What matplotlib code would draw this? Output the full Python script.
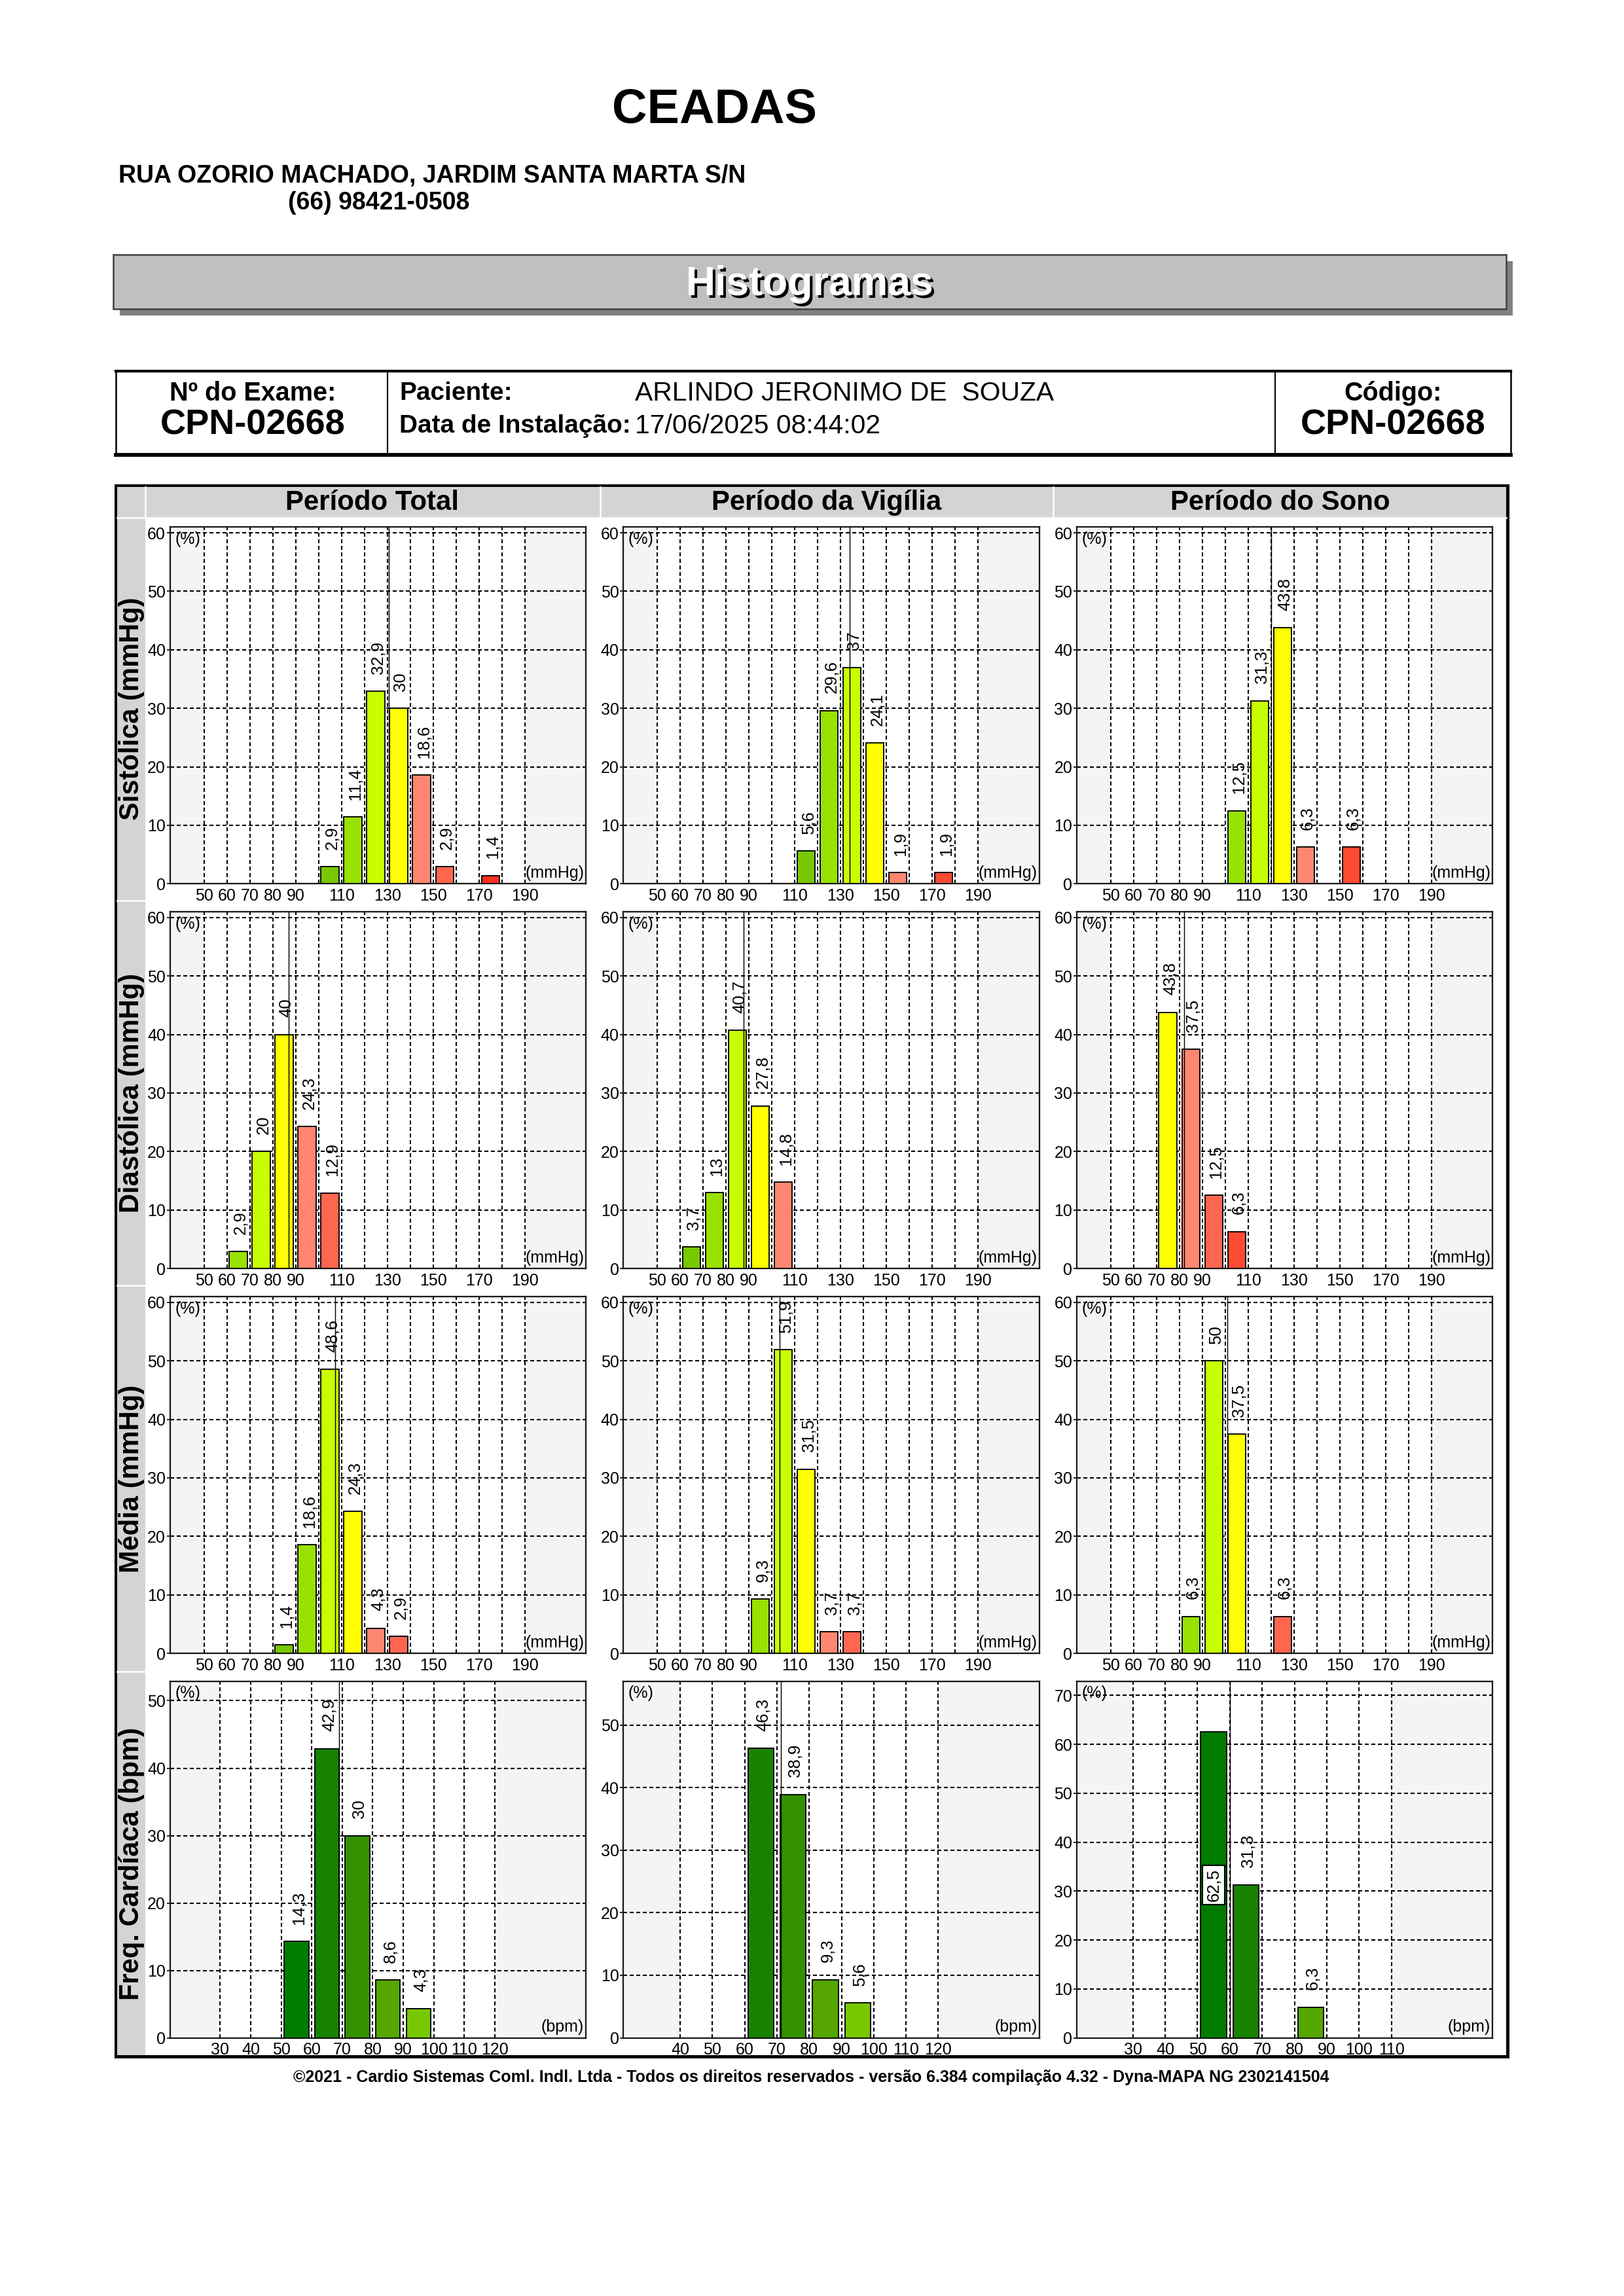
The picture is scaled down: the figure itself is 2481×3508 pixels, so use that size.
import numpy as np
import matplotlib
matplotlib.use("Agg")
import matplotlib.pyplot as plt
from matplotlib.patches import Rectangle

plt.rcParams['font.family'] = ['Liberation Sans', 'DejaVu Sans']
plt.rcParams['lines.scale_dashes'] = False

W, H = 2481, 3508

# ---------------- texts ----------------
clinic = "CEADAS"
address = "RUA OZORIO MACHADO, JARDIM SANTA MARTA S/N"
phone = "(66) 98421-0508"
exam_no = "CPN-02668"
patient = "ARLINDO JERONIMO DE  SOUZA"
install_date = "17/06/2025 08:44:02"
code = "CPN-02668"
footer = ("©2021 - Cardio Sistemas Coml. Indl. Ltda - Todos os direitos reservados - "
          "versão 6.384 compilação 4.32 - Dyna-MAPA NG 2302141504")

periods = ["Período Total", "Período da Vigília", "Período do Sono"]
row_names = ["Sistólica (mmHg)", "Diastólica (mmHg)", "Média (mmHg)", "Freq. Cardíaca (bpm)"]

# ---------------- data ----------------
bp_ticks = [50, 60, 70, 80, 90, 110, 130, 150, 170, 190]

# bin start (mmHg / bpm) and percentage, per period (total, vigilia, sono)
sis_total_bins = [100, 110, 120, 130, 140, 150, 170]
sis_total_pct = [2.9, 11.4, 32.9, 30, 18.6, 2.9, 1.4]
sis_vig_bins = [110, 120, 130, 140, 150, 170]
sis_vig_pct = [5.6, 29.6, 37, 24.1, 1.9, 1.9]
sis_sono_bins = [100, 110, 120, 130, 150]
sis_sono_pct = [12.5, 31.3, 43.8, 6.3, 6.3]

dia_total_bins = [60, 70, 80, 90, 100]
dia_total_pct = [2.9, 20, 40, 24.3, 12.9]
dia_vig_bins = [60, 70, 80, 90, 100]
dia_vig_pct = [3.7, 13, 40.7, 27.8, 14.8]
dia_sono_bins = [70, 80, 90, 100]
dia_sono_pct = [43.8, 37.5, 12.5, 6.3]

med_total_bins = [80, 90, 100, 110, 120, 130]
med_total_pct = [1.4, 18.6, 48.6, 24.3, 4.3, 2.9]
med_vig_bins = [90, 100, 110, 120, 130]
med_vig_pct = [9.3, 51.9, 31.5, 3.7, 3.7]
med_sono_bins = [80, 90, 100, 120]
med_sono_pct = [6.3, 50, 37.5, 6.3]

fc_total_bins = [50, 60, 70, 80, 90]
fc_total_pct = [14.3, 42.9, 30, 8.6, 4.3]
fc_vig_bins = [60, 70, 80, 90]
fc_vig_pct = [46.3, 38.9, 9.3, 5.6]
fc_sono_bins = [50, 60, 80]
fc_sono_pct = [62.5, 31.3, 6.3]

# mean line per period
sis_mean = [130.8, 133.9, 120.0]
dia_mean = [86.9, 87.7, 82.0]
med_mean = [107.2, 103.5, 101.0]
fc_mean = [68.9, 71.2, 60.1]

# bin drawn in yellow (limit) per period
sis_limit = [130, 140, 120]
dia_limit = [80, 90, 70]
med_limit = [110, 110, 100]

fc_ticks = [[30, 40, 50, 60, 70, 80, 90, 100, 110, 120],
            [40, 50, 60, 70, 80, 90, 100, 110, 120],
            [30, 40, 50, 60, 70, 80, 90, 100, 110]]
fc_ymax = [52.9, 57.0, 72.9]
fc_yticks = [[0, 10, 20, 30, 40, 50], [0, 10, 20, 30, 40, 50],
             [0, 10, 20, 30, 40, 50, 60, 70]]
fc_xlim = [(13.55, 149.9), (22.4, 151.3), (12.6, 141.3)]

# ---------------- styles ----------------
bp_ladder = {-3: '#78c800', -2: '#98e100', -1: '#c8ff00', 0: '#ffff00',
             1: '#ff8670', 2: '#ff6650', 3: '#ff4a32', 4: '#ff3020'}
fc_colors = {50: '#007c00', 60: '#168200', 70: '#339100', 80: '#55a600', 90: '#78c800'}

col_left = [259.7, 952.3, 1644.8]
ax_w = 635.5
row_top = [805.2, 1393.0, 1981.0, 2568.6]
ax_h = 545.0
GRID = dict(color='black', lw=0.5, ls=(0, (1.45, 0.95)), zorder=1)
FS = 6.0


def fmt(v):
    return f"{v:g}".replace('.', ',')


def draw_panel(ax, bins, pct, colors, mean, ticks, xlim, ymax, yticks, unit, width, inside=()):
    ax.set_xlim(*xlim)
    ax.set_ylim(0, ymax)
    ax.set_facecolor('#f4f4f4')
    ax.axvspan(ticks[0], ticks[-1], color='white', lw=0, zorder=0)
    for gx in range(ticks[0], ticks[-1] + 1, 10):
        ax.axvline(gx, **GRID)
    for gy in yticks[1:]:
        ax.axhline(gy, **GRID)
    centers = np.array(bins) + 5
    ax.bar(centers, pct, width=width, color=colors, edgecolor='black',
           linewidth=0.45, zorder=3)
    ax.axvline(mean, color='black', lw=0.35, zorder=4)
    for i, (c, v) in enumerate(zip(centers, pct)):
        if i in inside:
            ax.text(c, v / 2, fmt(v), rotation=90, ha='center', va='center',
                    fontsize=6.2, zorder=6,
                    bbox=dict(fc='white', ec='black', lw=0.5, pad=1.2))
        else:
            ax.annotate(fmt(v), (c, v), xytext=(0.8, 6.3), textcoords='offset points',
                        rotation=90, ha='center', va='bottom', fontsize=6.2, zorder=6)
    ax.set_xticks(ticks)
    ax.set_xticklabels([str(t) for t in ticks])
    ax.set_yticks(yticks)
    ax.tick_params(axis='x', length=0, pad=1.6, labelsize=FS)
    ax.tick_params(axis='y', length=1.3, width=0.4, pad=0.3, labelsize=FS)
    for s in ax.spines.values():
        s.set_linewidth(0.55)
        s.set_color('#1a1a1a')
    ax.text(0.012, 0.988, '(%)', transform=ax.transAxes, ha='left', va='top',
            fontsize=FS, zorder=7)
    ax.text(0.995, 0.008, unit, transform=ax.transAxes, ha='right', va='bottom',
            fontsize=FS, zorder=7)


fig = plt.figure(figsize=(W / 300, H / 300), dpi=300)
bg = fig.add_axes([0, 0, 1, 1], zorder=0)
bg.set_xlim(0, W)
bg.set_ylim(H, 0)
bg.axis('off')

# title block
bg.text(1091, 188, clinic, ha='center', va='baseline', fontsize=17.8, fontweight='bold')
bg.text(181, 279, address, ha='left', va='baseline', fontsize=9, fontweight='bold')
bg.text(440, 320, phone, ha='left', va='baseline', fontsize=9, fontweight='bold')

# banner
bg.add_patch(Rectangle((183, 399), 2128, 83, fc='#808080', ec='none'))
bg.add_patch(Rectangle((173, 389), 2128, 83, fc='#c0c0c0', ec='#404040', lw=0.6))
bg.text(1241, 455, "Histogramas", ha='center', va='baseline', fontsize=15,
        fontweight='bold', color='black')
bg.text(1237, 451, "Histogramas", ha='center', va='baseline', fontsize=15,
        fontweight='bold', color='white')

# info box
bg.add_patch(Rectangle((177, 567), 2131, 128, fc='white', ec='black', lw=0.6))
bg.plot([177, 2308], [567, 567], color='black', lw=1.0)
bg.plot([177, 2308], [695, 695], color='black', lw=1.4)
bg.plot([592, 592], [567, 695], color='black', lw=0.5)
bg.plot([1948, 1948], [567, 695], color='black', lw=0.5)
bg.text(386, 601, "Nº do Exame:", ha='center', va='center', fontsize=9.5, fontweight='bold')
bg.text(386, 650, exam_no, ha='center', va='center', fontsize=13, fontweight='bold')
bg.text(610, 601, "Paciente:", ha='left', va='center', fontsize=9.3, fontweight='bold')
bg.text(970, 601, patient, ha='left', va='center', fontsize=9.8)
bg.text(610, 651, "Data de Instalação:", ha='left', va='center', fontsize=9.3, fontweight='bold')
bg.text(970, 651, install_date, ha='left', va='center', fontsize=9.8)
bg.text(2128, 601, "Código:", ha='center', va='center', fontsize=9.5, fontweight='bold')
bg.text(2128, 650, code, ha='center', va='center', fontsize=13, fontweight='bold')

# main frame
bg.add_patch(Rectangle((177, 742), 2126, 2400, fc='white', ec='black', lw=1.2, zorder=0))
bg.add_patch(Rectangle((179, 744), 2122, 46.5, fc='#d4d4d4', ec='none', zorder=1))
bg.add_patch(Rectangle((179, 790.5), 43, 2349, fc='#d4d4d4', ec='none', zorder=1))
for xs in [222, 916.5, 1609]:
    bg.plot([xs, xs], [744, 790.5], color='white', lw=0.6, zorder=2)
bg.plot([179, 2301], [790.5, 790.5], color='white', lw=0.6, zorder=2)
for ys in [1376, 1964.4, 2553.7]:
    bg.plot([179, 222], [ys, ys], color='white', lw=0.6, zorder=2)
col_center = [569, 1263, 1956]
for cx, name in zip(col_center, periods):
    bg.text(cx, 768, name, ha='center', va='center', fontsize=10.1, fontweight='bold', zorder=3)
row_center = [1083, 1670, 2259, 2848]
for cy, name in zip(row_center, row_names):
    bg.text(201, cy, name, ha='center', va='center', rotation=90, fontsize=10,
            fontweight='bold', zorder=3)

bg.text(1239, 3174, footer, ha='center', va='center', fontsize=6, fontweight='bold')

# ---------------- panels ----------------
bp_rows = [
    ([sis_total_bins, sis_vig_bins, sis_sono_bins], [sis_total_pct, sis_vig_pct, sis_sono_pct], sis_mean, sis_limit),
    ([dia_total_bins, dia_vig_bins, dia_sono_bins], [dia_total_pct, dia_vig_pct, dia_sono_pct], dia_mean, dia_limit),
    ([med_total_bins, med_vig_bins, med_sono_bins], [med_total_pct, med_vig_pct, med_sono_pct], med_mean, med_limit),
]
fc_bins = [fc_total_bins, fc_vig_bins, fc_sono_bins]
fc_pct = [fc_total_pct, fc_vig_pct, fc_sono_pct]
fc_inside = [(), (), (0,)]


def add_ax(r, c):
    x, y = col_left[c], row_top[r]
    return fig.add_axes([x / W, 1 - (y + ax_h) / H, ax_w / W, ax_h / H], zorder=2)


for r, (bins3, pct3, means, limits) in enumerate(bp_rows):
    for c in range(3):
        ax = add_ax(r, c)
        cols = [bp_ladder[(b - limits[c]) // 10] for b in bins3[c]]
        draw_panel(ax, bins3[c], pct3[c], cols, means[c], bp_ticks, (35.2, 216.7),
                   61.0, [0, 10, 20, 30, 40, 50, 60], '(mmHg)', 7.8)

for c in range(3):
    ax = add_ax(3, c)
    cols = [fc_colors[b] for b in fc_bins[c]]
    draw_panel(ax, fc_bins[c], fc_pct[c], cols, fc_mean[c], fc_ticks[c], fc_xlim[c],
               fc_ymax[c], fc_yticks[c], '(bpm)', 8.0, inside=fc_inside[c])

fig.savefig("out.png", dpi=300)
